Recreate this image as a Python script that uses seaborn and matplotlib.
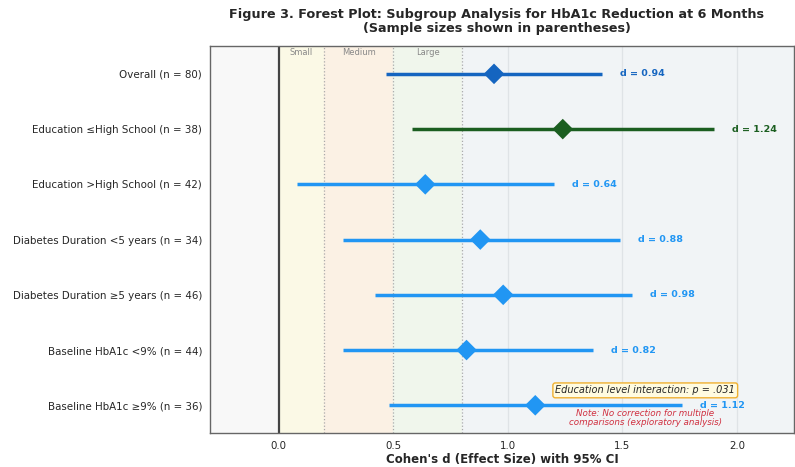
import numpy as np
import pandas as pd
import matplotlib
matplotlib.use("Agg")
import matplotlib.pyplot as plt
import seaborn as sns

# subgroup data
labels = ["Overall (n = 80)", "Education \u2264High School (n = 38)", "Education >High School (n = 42)",
          "Diabetes Duration <5 years (n = 34)", "Diabetes Duration \u22655 years (n = 46)",
          "Baseline HbA1c <9% (n = 44)", "Baseline HbA1c \u22659% (n = 36)"]
effect = [0.94, 1.24, 0.64, 0.88, 0.98, 0.82, 1.12]
ci_low = [0.47, 0.58, 0.08, 0.28, 0.42, 0.28, 0.48]
ci_high = [1.41, 1.90, 1.20, 1.49, 1.54, 1.37, 1.76]
group = ["overall", "edu_low", "sub", "sub", "sub", "sub", "sub"]

palette = {"overall": "#1565C0", "edu_low": "#1B5E20", "sub": "#2196F3"}

df = pd.DataFrame({"label": labels, "d": effect, "lo": ci_low, "hi": ci_high, "grp": group})
df["y"] = np.arange(len(df))

sns.set_style("white")
fig = plt.figure(figsize=(7.95, 4.67), dpi=100)
ax = fig.add_axes([0.264, 0.073, 0.735, 0.828])

# effect size shading
ax.axvspan(-0.3, 0, color="#f8f8f8", zorder=0)
ax.axvspan(0, 0.2, color="#fbf9e6", zorder=0)
ax.axvspan(0.2, 0.5, color="#fbf1e4", zorder=0)
ax.axvspan(0.5, 0.8, color="#f0f6ec", zorder=0)
ax.axvspan(0.8, 2.25, color="#f1f4f6", zorder=0)
for v in [0.2, 0.5, 0.8]:
    ax.axvline(v, color="#aaaaaa", ls=":", lw=0.9, zorder=1)
for v in [1.0, 1.5, 2.0]:
    ax.axvline(v, color="#dfe3e6", lw=0.9, zorder=1)
ax.axvline(0, color="#444444", lw=1.6, zorder=2)

for _, r in df.iterrows():
    c = palette[r["grp"]]
    ax.hlines(r["y"], r["lo"], r["hi"], color=c, lw=2.5, zorder=3)
    ax.text(r["hi"] + 0.08, r["y"], f"d = {r['d']:.2f}", color=c, fontsize=6.8,
            fontweight="bold", va="center", ha="left")

sns.scatterplot(data=df, x="d", y="y", hue="grp", palette=palette, marker="D", s=110,
                edgecolor="none", legend=False, ax=ax, zorder=4)

for x, t in [(0.1, "Small"), (0.35, "Medium"), (0.65, "Large")]:
    ax.text(x, -0.38, t, fontsize=6, color="#888888", ha="center", va="center")

ax.text(1.6, 5.73, "Education level interaction: p = .031", fontsize=7, style="italic",
        ha="center", va="center",
        bbox=dict(boxstyle="round,pad=0.25", fc="#fffbe0", ec="#f0b030", lw=1))
ax.text(1.6, 6.23, "Note: No correction for multiple\ncomparisons (exploratory analysis)",
        fontsize=6.3, style="italic", color="#d03040", ha="center", va="center", linespacing=1.1)

ax.set_xlim(-0.3, 2.25)
ax.set_ylim(6.5, -0.5)
ax.set_yticks(df["y"])
ax.set_yticklabels(df["label"], fontsize=7.4)
ax.set_xticks([0.0, 0.5, 1.0, 1.5, 2.0])
ax.set_xticklabels(["0.0", "0.5", "1.0", "1.5", "2.0"], fontsize=7.4)
ax.tick_params(axis="both", length=3, color="#555555", pad=2.5)
ax.set_xlabel("Cohen's d (Effect Size) with 95% CI", fontsize=8.5, fontweight="bold", labelpad=2)
ax.set_ylabel("")
for s in ax.spines.values():
    s.set_color("#666666")
    s.set_linewidth(1.0)

fig.text(0.625, 0.955, "Figure 3. Forest Plot: Subgroup Analysis for HbA1c Reduction at 6 Months\n(Sample sizes shown in parentheses)",
         ha="center", va="center", fontsize=9.2, fontweight="bold", linespacing=1.1)

fig.savefig("out.png", dpi=100)
